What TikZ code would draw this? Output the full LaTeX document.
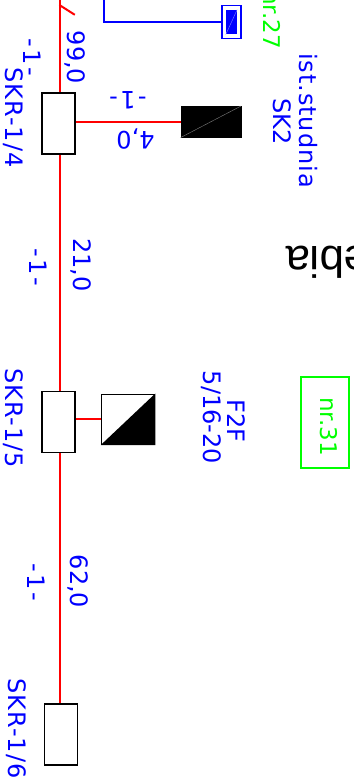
\documentclass[tikz,border=0pt]{standalone}
\usepackage{fontspec}
\setmainfont{DejaVu Sans}
\newfontfamily\titlefont{Liberation Sans}
\newfontfamily\widefont[LetterSpace=4]{DejaVu Sans}
\newfontfamily\dashfont[LetterSpace=10]{DejaVu Sans}
\tikzset{
  redline/.style={draw=red,line width=2pt},
  blueline/.style={draw=blue,line width=2pt},
  skrbox/.style={draw=black,fill=white,line width=1.5pt,minimum width=33pt,minimum height=61pt,inner sep=0pt},
  txtblue/.style={blue,font=\fontsize{24}{24}\selectfont,inner sep=0pt},
  txtdown/.style={txtblue,rotate=-90},
  txtup/.style={txtblue,rotate=180},
  txtwide/.style={txtdown,font=\widefont\fontsize{24}{24}\selectfont},
  txtdash/.style={txtdown,font=\dashfont\fontsize{24}{24}\selectfont},
  txtgreen/.style={green,font=\fontsize{23}{23}\selectfont,inner sep=0pt,rotate=-90},
}
\begin{document}
\begin{tikzpicture}[x=1pt,y=-1pt]
  \clip (0,0) rectangle (353,783);
  \fill[white] (0,0) rectangle (353,783);
  \coordinate (linetop) at (59.6,0);
  \coordinate (blueend) at (104.4,0);
  \coordinate (ticka) at (59.4,5);
  \coordinate (tickb) at (74.8,14.8);
  % boxes
  \node[skrbox] (skr4) at (58.5,123.6) {};
  \node[skrbox] (skr5) at (58.5,422) {};
  \node[skrbox] (skr6) at (60.8,734.5) {};
  \node[draw=black,fill=black,line width=.6pt,minimum width=60pt,minimum height=31pt,inner sep=0pt] (sk2) at (210.8,121.8) {};
  \node[draw=black,fill=white,line width=1.5pt,minimum width=53pt,minimum height=50pt,inner sep=0pt] (f2f) at (128,419.3) {};
  \node[draw=blue,fill=white,line width=1.5pt,minimum width=19pt,minimum height=33pt,inner sep=0pt] (zaw) at (231.4,22.2) {};
  \node[fill=blue,minimum width=11pt,minimum height=24.5pt,inner sep=0pt] (zawin) at (231.4,22.2) {};
  \node[draw=green,line width=2pt,minimum width=48pt,minimum height=91pt,inner sep=0pt] (nr31box) at (324.5,422.8) {};
  % symbol diagonals
  \draw[gray,line width=.4pt] (sk2.south west) -- (sk2.north east);
  \draw[blue!50!white,line width=.4pt] (zawin.south west) -- (zawin.north east);
  \fill[black] (f2f.south west) -- (f2f.north east) -- (f2f.south east) -- cycle;
  % main line
  \draw[redline] (linetop) -- (linetop |- skr4.north);
  \draw[redline] (linetop |- skr4.south) -- (linetop |- skr5.north);
  \draw[redline] (linetop |- skr5.south) -- (linetop |- skr6.north);
  \draw[redline] (ticka) -- (tickb);
  \draw[redline] (skr4.east |- sk2.west) -- (sk2.west);
  \draw[redline] (skr5.east |- f2f.west) -- (f2f.west);
  \draw[blueline] (blueend) -- (blueend |- zaw.west) -- (zaw.west);
  % labels
  \node[txtdown] (len99) at (75.5,57.5) {99,0};
  \node[txtdash] (cnt1) at (32,57) {-1-};
  \node[txtwide] (name4) at (13.5,117.5) {SKR-1/4};
  \node[txtup,font=\dashfont\fontsize{24}{24}\selectfont] (cnt2) at (128,100.5) {-1-};
  \node[txtup] (len4) at (135.5,139) {4,0};
  \node[txtdown] (sk2name) at (282,121.5) {SK2};
  \node[txtwide] (well) at (308,120.5) {ist.studnia};
  \node[txtdown] (len21) at (81,265) {21,0};
  \node[txtdash] (cnt3) at (38.5,267.5) {-1-};
  \node[txtwide] (name5) at (13,418) {SKR-1/5};
  \node[txtdown] (f2fname) at (236,421) {F2F};
  \node[txtdown] (f2fsize) at (211.5,417.5) {5/16-20};
  \node[txtdown] (len62) at (78.5,581.5) {62,0};
  \node[txtdash] (cnt4) at (36.5,582) {-1-};
  \node[txtwide] (name6) at (16,728.5) {SKR-1/6};
  \node[txtgreen,anchor=base east] (nr27) at (263.5,49) {nr.27};
  \node[txtgreen] (nr31) at (328.5,426.5) {nr.31};
  \node[black,font=\titlefont\fontsize{44}{44}\selectfont,inner sep=0pt,rotate=180,anchor=base east] (title) at (285.5,247) {ebia};
\end{tikzpicture}
\end{document}
